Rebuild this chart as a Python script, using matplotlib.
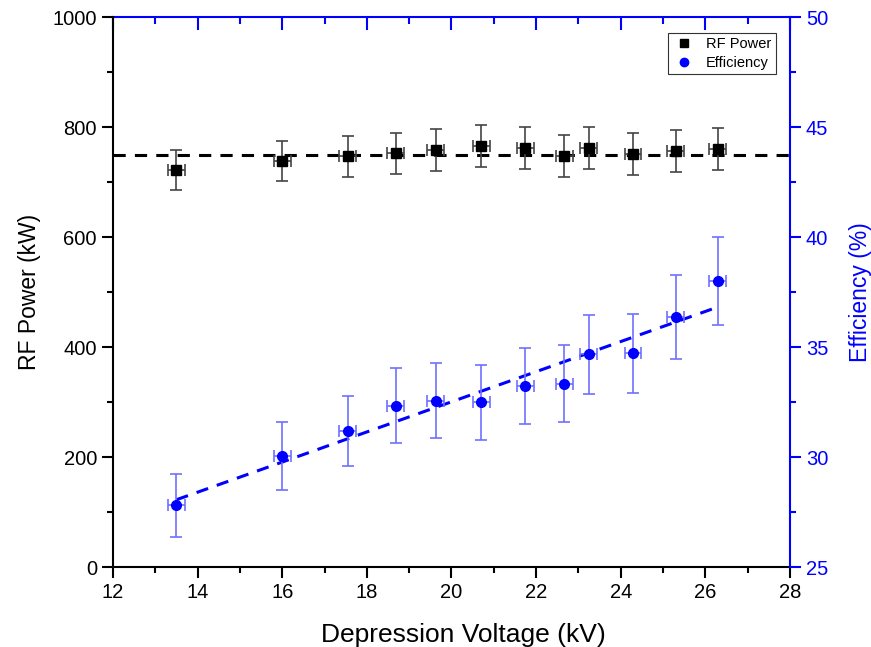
import numpy as np
import matplotlib
matplotlib.use("Agg")
import matplotlib.pyplot as plt
from matplotlib.ticker import MultipleLocator
from matplotlib.lines import Line2D

plt.rcParams['font.family'] = ['Liberation Sans', 'DejaVu Sans']

# depression voltage (kV)
voltage = [13.5, 16.0, 17.55, 18.68, 19.63, 20.7, 21.74, 22.67, 23.24, 24.29, 25.3, 26.29]
voltage_err = [0.2] * 12

# RF power (kW)
power = [722, 738, 747, 752, 758, 766, 762, 748, 762, 751, 757, 760]
power_err = [36, 37, 37, 38, 38, 38, 38, 38, 38, 38, 38, 38]
power_mean = 750

# efficiency (%)
eff = [27.8, 30.05, 31.18, 32.33, 32.56, 32.49, 33.21, 33.32, 34.67, 34.71, 36.36, 38.0]
eff_err = [1.45, 1.55, 1.6, 1.7, 1.7, 1.7, 1.73, 1.75, 1.8, 1.8, 1.9, 2.0]

blue = '#0000FF'
light_blue = '#6f6fff'

fig = plt.figure(figsize=(8.71, 6.47), dpi=100)
ax = fig.add_axes([0.1297, 0.1236, 0.7773, 0.8501])
ax2 = ax.twinx()

# RF power
ax.axhline(power_mean, color='black', ls=(0, (4, 3)), lw=2.2, zorder=1)
ax.errorbar(voltage, power, yerr=power_err, xerr=voltage_err, fmt='s', color='black',
            ms=7, ecolor='#444444', elinewidth=1.2, capsize=4, capthick=1.2,
            label='RF Power', zorder=3)

# efficiency
ax2.errorbar(voltage, eff, yerr=eff_err, xerr=voltage_err, fmt='o', color=blue,
             ms=7, ecolor=light_blue, elinewidth=1.2, capsize=4, capthick=1.2,
             label='Efficiency', zorder=3)
slope, icpt = np.polyfit(voltage, eff, 1)
xf = np.array([voltage[0], voltage[-1]])
ax2.plot(xf, slope * xf + icpt, color=blue, ls=(0, (4, 3)), lw=2.2, zorder=2)

ax.set_xlim(12, 28)
ax.set_ylim(0, 1000)
ax2.set_ylim(25, 50)

ax.xaxis.set_major_locator(MultipleLocator(2))
ax.xaxis.set_minor_locator(MultipleLocator(1))
ax.yaxis.set_major_locator(MultipleLocator(200))
ax.yaxis.set_minor_locator(MultipleLocator(100))
ax2.yaxis.set_major_locator(MultipleLocator(5))
ax2.yaxis.set_minor_locator(MultipleLocator(2.5))

fs_tick = 14.5
ax.tick_params(axis='both', which='both', direction='out', labelsize=fs_tick, width=1.5)
ax.tick_params(axis='both', which='major', length=8)
ax.tick_params(axis='both', which='minor', length=4)
ax2.tick_params(axis='y', which='both', direction='out', colors=blue,
                labelsize=fs_tick, width=1.5)
ax2.tick_params(axis='y', which='major', length=8)
ax2.tick_params(axis='y', which='minor', length=4)

# top axis: blue, ticks pointing inward, no labels
top = ax.secondary_xaxis('top')
top.xaxis.set_major_locator(MultipleLocator(2))
top.xaxis.set_minor_locator(MultipleLocator(1))
top.tick_params(axis='x', which='both', direction='in', colors=blue, width=1.5,
                labeltop=False)
top.tick_params(axis='x', which='major', length=9)
top.tick_params(axis='x', which='minor', length=5)
top.spines['top'].set_color(blue)
top.spines['top'].set_linewidth(1.5)

for s in ['left', 'bottom']:
    ax.spines[s].set_linewidth(1.5)
ax2.spines['right'].set_color(blue)
ax2.spines['right'].set_linewidth(1.5)
ax.spines['top'].set_visible(False)
ax2.spines['top'].set_visible(False)
ax.spines['right'].set_visible(False)
ax2.spines['left'].set_visible(False)
ax2.spines['bottom'].set_visible(False)

ax.set_xlabel('Depression Voltage (kV)', fontsize=19, labelpad=15)
ax.xaxis.label.set_x(0.518)
ax.set_ylabel('RF Power (kW)', fontsize=16.5, labelpad=8)
ax2.set_ylabel('Efficiency (%)', fontsize=16.5, color=blue, labelpad=15)

labels = ['RF Power', 'Efficiency']
handles = [Line2D([], [], marker='s', color='black', ls='none', ms=6),
           Line2D([], [], marker='o', color=blue, ls='none', ms=6)]
leg = ax2.legend(handles, labels, loc='upper right', bbox_to_anchor=(0.979, 0.971),
                 borderaxespad=0, fontsize=10.5, frameon=True, fancybox=False,
                 edgecolor='black', handletextpad=0.8, borderpad=0.3,
                 labelspacing=0.3, handlelength=1.5)
leg.get_frame().set_linewidth(0.8)

fig.savefig('out.png', dpi=100)
